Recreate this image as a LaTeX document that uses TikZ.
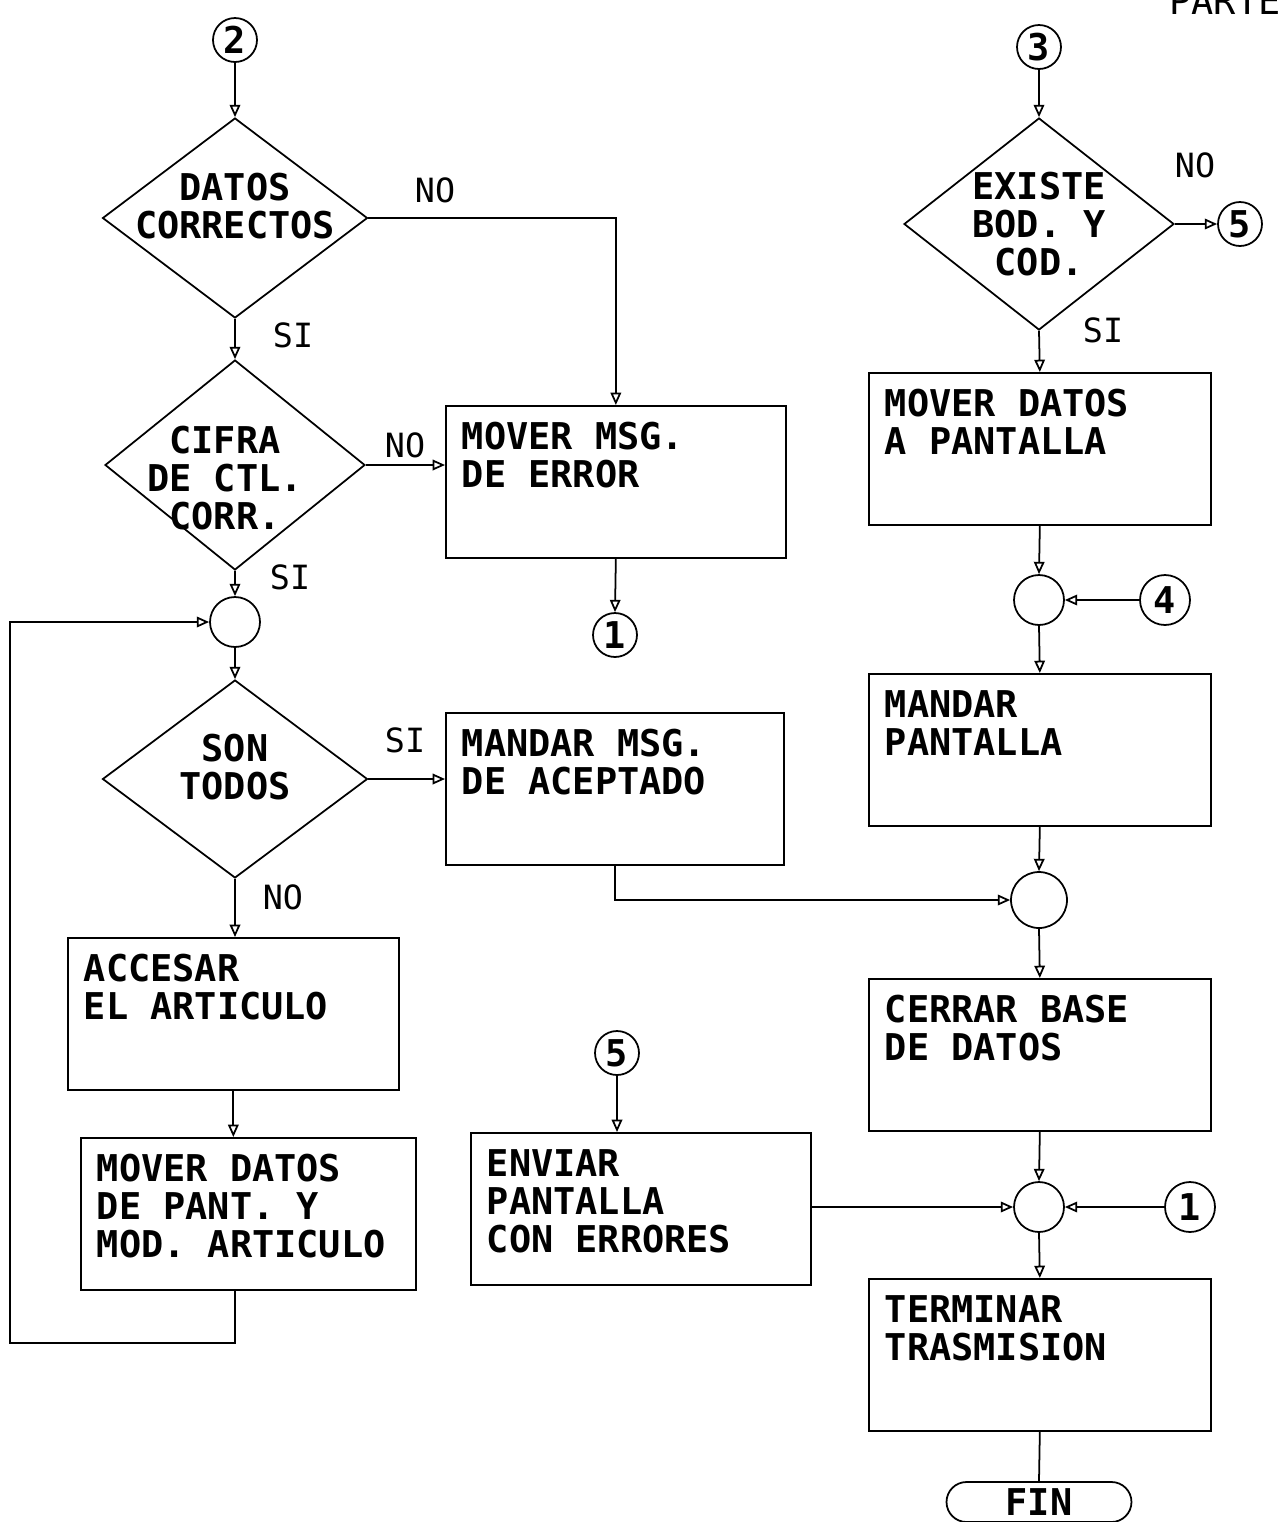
\documentclass[tikz,border=0pt]{standalone}
\usepackage{fontspec}
\setmonofont{DejaVu Sans Mono}
\usetikzlibrary{shapes.geometric,arrows.meta}
\newcommand{\plotfont}{\fontsize{21}{21.5}\selectfont\ttfamily\bfseries}
\newcommand{\tagfont}{\fontsize{19}{20}\selectfont\ttfamily}

\tikzset{
  wire/.style={line width=1pt},
  flow/.style={line width=1pt, -{Triangle[open,length=7pt,width=6pt]}},
  proc/.style={draw, line width=1pt, anchor=north west, align=left, font=\plotfont,
    inner xsep=0.32cm, inner ysep=0.24cm, text width=#1,
    text height=0.64cm, text depth=1.92cm,
    execute at begin node={\frenchspacing\spaceskip=0pt\xspaceskip=0pt}},
  test/.style={draw, diamond, line width=1pt, inner sep=0pt},
  dtext/.style={align=center, font=\plotfont},
  conn/.style={draw, circle, line width=1pt, minimum size=0.88cm, inner sep=0pt, font=\plotfont},
  junc/.style={draw, circle, line width=1pt, minimum size=1cm, inner sep=0pt},
  lbl/.style={font=\tagfont},
}

\begin{document}
\begin{tikzpicture}[x=0.02cm, y=-0.02cm]
    \useasboundingbox (0,0) rectangle (1281,1522);
    \node[lbl, font=\fontsize{21}{21}\selectfont\ttfamily, anchor=base] (parte) at (1225,14) {PARTE};

    % Left column
    \node[conn] (c2) at (235,40) {2};
    \node[test, minimum width=5.3cm, minimum height=4cm,
      label={[dtext, yshift=0.24cm]center:{DATOS\\CORRECTOS}}] (dc) at (235,218) {};
    \node[test, minimum width=5.2cm, minimum height=4.2cm,
      label={[dtext, xshift=-0.2cm, yshift=-0.26cm]center:{CIFRA\\DE CTL.\\CORR.}}] (cc) at (235,465) {};
    \node[junc] (j1) at (235,622) {};
    \node[test, minimum width=5.3cm, minimum height=3.96cm,
      label={[dtext, yshift=0.24cm]center:{SON\\TODOS}}] (st) at (235,779) {};
    \node[proc=5.98cm] (acc) at (67,937) {ACCESAR\\EL ARTICULO};
    \node[proc=6.06cm] (mod) at (80,1137) {MOVER DATOS\\DE PANT. Y\\MOD. ARTICULO};
    \coordinate (lp) at (10,1343);

    % Middle column
    \node[proc=6.16cm] (err) at (445,405) {MOVER MSG.\\DE ERROR};
    \node[conn] (c1a) at (615,635) {1};
    \node[proc=6.12cm] (acp) at (445,712) {MANDAR MSG.\\DE ACEPTADO};
    \node[conn] (c5b) at (617,1053) {5};
    \node[proc=6.16cm] (env) at (470,1132) {ENVIAR\\PANTALLA\\CON ERRORES};

    % Right column
    \node[conn] (c3) at (1039,47) {3};
    \node[test, minimum width=5.4cm, minimum height=4.24cm,
      label={[dtext]center:{EXISTE\\BOD. Y\\COD.}}] (ex) at (1039,224) {};
    \node[conn] (c5a) at (1240,224) {5};
    \node[proc=6.2cm] (mdp) at (868,372) {MOVER DATOS\\A PANTALLA};
    \node[junc] (j2) at (1039,600) {};
    \node[conn, minimum size=1cm] (c4) at (1165,600) {4};
    \node[proc=6.2cm] (mpa) at (868,673) {MANDAR\\PANTALLA};
    \node[junc, minimum size=1.12cm] (j3) at (1039,900) {};
    \node[proc=6.2cm] (cer) at (868,978) {CERRAR BASE\\DE DATOS};
    \node[junc] (j4) at (1039,1207) {};
    \node[conn, minimum size=1cm] (c1b) at (1190,1207) {1};
    \node[proc=6.2cm] (ter) at (868,1278) {TERMINAR\\TRASMISION};
    \node[draw, line width=1pt, rounded corners=0.4cm, minimum width=3.7cm,
      minimum height=0.8cm, font=\plotfont] (fin) at (1039,1502) {FIN};

    % Branch labels
    \node[lbl] (no1) at (435,190) {NO};
    \node[lbl] (si1) at (293,335) {SI};
    \node[lbl] (no2) at (405,445) {NO};
    \node[lbl] (si2) at (290,577) {SI};
    \node[lbl] (si3) at (405,740) {SI};
    \node[lbl] (no3) at (283,897) {NO};
    \node[lbl] (no4) at (1195,165) {NO};
    \node[lbl] (si4) at (1103,330) {SI};

    % Connectors
    \draw[flow] (c2) -- (dc.north);
    \draw[flow] (dc.east) -| (err.north);
    \draw[flow] (dc.south) -- (cc.north);
    \draw[flow] (cc.east) -- (cc.east -| err.west);
    \draw[flow] (err.south) -- (c1a.north);
    \draw[flow] (cc.south) -- (j1.north);
    \draw[flow] (j1.south) -- (st.north);
    \draw[flow] (st.east) -- (st.east -| acp.west);
    \draw[flow] (acp.south) |- (j3.west);
    \draw[flow] (st.south) -- (st.south |- acc.north);
    \draw[flow] (acc.south) -- (acc.south |- mod.north);
    \draw[flow] (st.south |- mod.south) |- (lp) |- (j1.west);
    \draw[flow] (c5b.south) -- (c5b.south |- env.north);
    \draw[flow] (env.east |- j4.west) -- (j4.west);

    \draw[flow] (c3) -- (ex.north);
    \draw[flow] (ex.east) -- (c5a.west);
    \draw[flow] (ex.south) -- (mdp.north);
    \draw[flow] (mdp.south) -- (j2.north);
    \draw[flow] (c4.west) -- (j2.east);
    \draw[flow] (j2.south) -- (mpa.north);
    \draw[flow] (mpa.south) -- (j3.north);
    \draw[flow] (j3.south) -- (cer.north);
    \draw[flow] (cer.south) -- (j4.north);
    \draw[flow] (c1b.west) -- (j4.east);
    \draw[flow] (j4.south) -- (ter.north);
    \draw[wire] (ter.south) -- (fin.north);
\end{tikzpicture}
\end{document}
